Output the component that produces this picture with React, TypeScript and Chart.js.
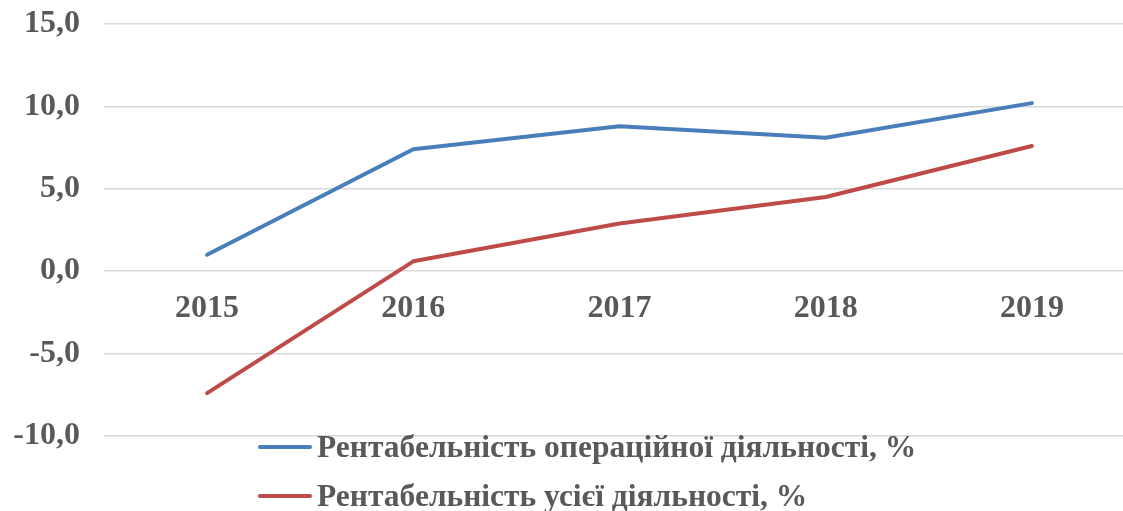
import React, { useEffect, useRef } from "react";
import { Chart, registerables } from "chart.js";

Chart.register(...registerables);

const categories = ["2015", "2016", "2017", "2018", "2019"];
const operatingProfitability = [1.0, 7.4, 8.8, 8.1, 10.2];
const totalProfitability = [-7.4, 0.6, 2.9, 4.5, 7.6];
const seriesLabels = [
  "Рентабельність операційної діяльності, %",
  "Рентабельність усієї діяльності, %",
];
const seriesColors = ["#4A7EBB", "#BE4B48"];
const yMin = -10;
const yMax = 15;
const yStep = 5;

const FONT = "'Liberation Serif', 'DejaVu Serif', serif";
const TEXT_COLOR = "#595959";

export default function App() {
  const canvasRef = useRef<HTMLCanvasElement | null>(null);

  useEffect(() => {
    const canvas = canvasRef.current;
    if (!canvas) return;
    const chart = new Chart(canvas, {
      type: "line",
      data: {
        labels: categories,
        datasets: [
          {
            label: seriesLabels[0],
            data: operatingProfitability,
            borderColor: seriesColors[0],
            backgroundColor: seriesColors[0],
            borderWidth: 4,
            pointRadius: 0,
            borderCapStyle: "round",
            borderJoinStyle: "round",
            tension: 0,
          },
          {
            label: seriesLabels[1],
            data: totalProfitability,
            borderColor: seriesColors[1],
            backgroundColor: seriesColors[1],
            borderWidth: 4,
            pointRadius: 0,
            borderCapStyle: "round",
            borderJoinStyle: "round",
            tension: 0,
          },
        ],
      },
      options: {
        responsive: false,
        animation: false,
        layout: { padding: { top: 24, right: 5, bottom: 75, left: 0 } },
        plugins: {
          legend: { display: false },
          tooltip: { enabled: false },
        },
        scales: {
          x: {
            type: "category",
            position: { y: 0 } as any,
            offset: true,
            grid: { display: false },
            border: { display: false },
            ticks: {
              color: TEXT_COLOR,
              font: { family: FONT, size: 32, weight: "bold" },
              padding: 10,
              maxRotation: 0,
            },
          },
          y: {
            min: yMin,
            max: yMax,
            border: { display: false },
            grid: { color: "#D9D9D9", lineWidth: 1.5, drawTicks: false },
            afterFit: (scale: any) => {
              scale.width = 104;
              scale.paddingTop = 0;
              scale.paddingBottom = 0;
            },
            ticks: {
              stepSize: yStep,
              color: TEXT_COLOR,
              font: { family: FONT, size: 32, weight: "bold" },
              padding: 24,
              callback: (v: any) => Number(v).toFixed(1).replace(".", ","),
            },
          },
        },
      },
    });
    return () => chart.destroy();
  }, []);

  const legendRows = [447, 496];

  return (
    <div
      style={{
        position: "fixed",
        left: 0,
        top: 0,
        width: 1123,
        height: 511,
        overflow: "hidden",
        background: "#ffffff",
      }}
    >
      <canvas ref={canvasRef} width={1140} height={511} style={{ display: "block" }} />
      {seriesLabels.map((label, i) => (
        <React.Fragment key={label}>
          <div
            style={{
              position: "absolute",
              left: 258,
              top: legendRows[i] - 2,
              width: 54,
              height: 4,
              borderRadius: 2,
              background: seriesColors[i],
            }}
          />
          <div
            style={{
              position: "absolute",
              left: 317,
              top: legendRows[i] - 20,
              height: 40,
              lineHeight: "40px",
              fontFamily: FONT,
              fontWeight: "bold",
              fontSize: 31.5,
              color: TEXT_COLOR,
              whiteSpace: "nowrap",
            }}
          >
            {label}
          </div>
        </React.Fragment>
      ))}
    </div>
  );
}
